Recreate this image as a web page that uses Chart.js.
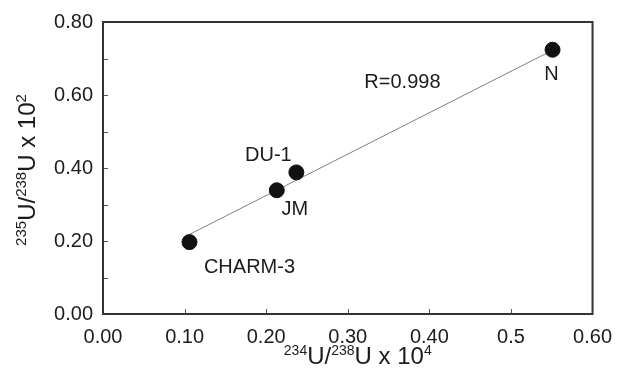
<!DOCTYPE html>
<html><head><meta charset="utf-8">
<script src="https://cdn.jsdelivr.net/npm/chart.js@4/dist/chart.umd.min.js"></script>
<style>html,body{margin:0;padding:0;background:#fff}#wrap{width:623px;height:383px}</style>
</head><body><div id="wrap"><canvas id="c" width="623" height="383"></canvas></div>
<script>
// ---- data ----
const samples = ["CHARM-3", "JM", "DU-1", "N"];
const u234 = [0.106, 0.213, 0.237, 0.551];   // 234U/238U x 10^4
const u235 = [0.197, 0.339, 0.388, 0.724];   // 235U/238U x 10^2
const fitX = [0.106, 0.546];
const fitY = [0.218, 0.717];
const fitLabel = "R=0.998";
const xTickLabels = ["0.00", "0.10", "0.20", "0.30", "0.40", "0.5", "0.60"];
const yTickLabels = ["0.00", "0.20", "0.40", "0.60", "0.80"];
const xTitleParts = [["234", true], ["U/", false], ["238", true], ["U x 10", false], ["4", true]];
const yTitleParts = [["235", true], ["U/", false], ["238", true], ["U x 10", false], ["2", true]];

// ---- style / placement ----
const FONT = '"Liberation Sans", Arial, Helvetica, sans-serif';
const TEXT = '#1c1c1c';
const labelOffsets = { "CHARM-3": [60, 25], "JM": [18, 19], "DU-1": [-28, -17], "N": [-1, 25] };
const fitLabelPos = { x: 0.367, y: 0.634 };

function drawParts(ctx, parts, cx, baseY, big, small, raise) {
  let widths = parts.map(p => { ctx.font = (p[1] ? small : big) + 'px ' + FONT; return ctx.measureText(p[0]).width; });
  let total = widths.reduce((a, b) => a + b, 0);
  let x = cx - total / 2;
  ctx.textAlign = 'left'; ctx.textBaseline = 'alphabetic';
  parts.forEach((p, i) => {
    ctx.font = (p[1] ? small : big) + 'px ' + FONT;
    ctx.fillText(p[0], x, p[1] ? baseY - raise : baseY);
    x += widths[i];
  });
}

const deco = {
  id: 'deco',
  afterDatasetsDraw(chart) {
    const ctx = chart.ctx, a = chart.chartArea, xs = chart.scales.x, ys = chart.scales.y;
    ctx.save();
    // inner ticks
    ctx.strokeStyle = '#555'; ctx.lineWidth = 1;
    for (let v = 1; v < 6; v++) {
      const px = Math.round(xs.getPixelForValue(v / 10)) + 0.5;
      ctx.beginPath(); ctx.moveTo(px, a.bottom); ctx.lineTo(px, a.bottom - 5); ctx.stroke();
    }
    for (let v = 1; v < 8; v++) {
      const py = Math.round(ys.getPixelForValue(v / 10)) + 0.5;
      ctx.beginPath(); ctx.moveTo(a.left, py); ctx.lineTo(a.left + 5, py); ctx.stroke();
    }
    // frame
    ctx.strokeStyle = '#333'; ctx.lineWidth = 2;
    ctx.strokeRect(a.left, a.top, a.right - a.left, a.bottom - a.top);
    // point labels
    ctx.fillStyle = TEXT; ctx.font = '20px ' + FONT;
    ctx.textAlign = 'center'; ctx.textBaseline = 'middle';
    samples.forEach((s, i) => {
      const o = labelOffsets[s];
      ctx.fillText(s, xs.getPixelForValue(u234[i]) + o[0], ys.getPixelForValue(u235[i]) + o[1]);
    });
    ctx.fillText(fitLabel, xs.getPixelForValue(fitLabelPos.x), ys.getPixelForValue(fitLabelPos.y));
    // axis titles
    drawParts(ctx, xTitleParts, (a.left + a.right) / 2 + 10, 364, 24, 14, 9);
    ctx.translate(35, (a.top + a.bottom) / 2 + 2);
    ctx.rotate(-Math.PI / 2);
    drawParts(ctx, yTitleParts, 0, 0, 24, 15, 9);
    ctx.restore();
  }
};

new Chart(document.getElementById('c'), {
  type: 'scatter',
  data: {
    datasets: [
      { data: fitX.map((x, i) => ({ x, y: fitY[i] })), showLine: true, borderColor: '#808080', borderWidth: 1, pointRadius: 0, order: 2 },
      { data: u234.map((x, i) => ({ x, y: u235[i] })), backgroundColor: '#111', borderColor: '#111', pointRadius: 7.5, pointHoverRadius: 7.5, order: 1 }
    ]
  },
  options: {
    responsive: false, animation: false, devicePixelRatio: 1,
    layout: { padding: { top: 21, right: 21, left: 0, bottom: 0 } },
    plugins: { legend: { display: false }, tooltip: { enabled: false } },
    scales: {
      x: {
        type: 'linear', min: 0, max: 0.6,
        afterFit: s => { s.height = 69; },
        grid: { display: false, drawTicks: false },
        border: { display: false },
        ticks: { stepSize: 0.1, padding: 11, color: TEXT, font: { family: FONT, size: 20 }, maxRotation: 0,
          callback: (v, i) => xTickLabels[i] }
      },
      y: {
        type: 'linear', min: 0, max: 0.8,
        afterFit: s => { s.width = 103; },
        grid: { display: false, drawTicks: false },
        border: { display: false },
        ticks: { stepSize: 0.2, padding: 10, color: TEXT, font: { family: FONT, size: 20 },
          callback: (v, i) => yTickLabels[i] }
      }
    }
  },
  plugins: [deco]
});
</script></body></html>
